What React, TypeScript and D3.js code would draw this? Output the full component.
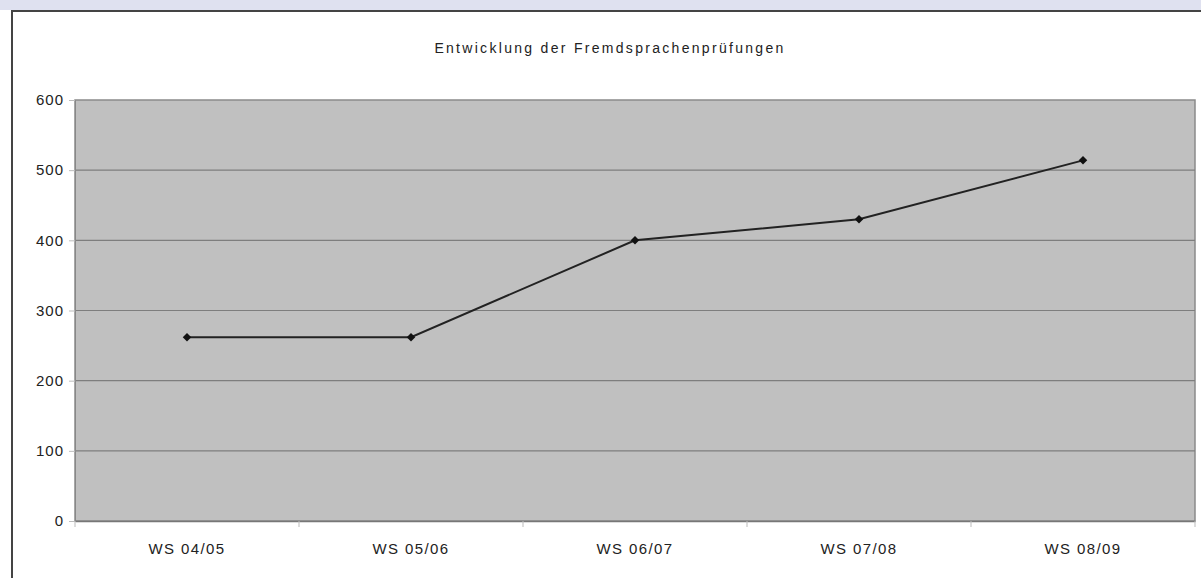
import { useEffect, useRef } from 'react'
import * as d3 from 'd3'

const categories = ['WS 04/05', 'WS 05/06', 'WS 06/07', 'WS 07/08', 'WS 08/09']
const values = [262, 262, 400, 430, 514]
const yTicks = [0, 100, 200, 300, 400, 500, 600]
const title = 'Entwicklung der Fremdsprachenprüfungen'

const svgWidth = 1201
const svgHeight = 578
const plot = { left: 75, right: 1195, top: 100, bottom: 521 }
const font = 'Arial, Liberation Sans, sans-serif'

export default function App() {
  const svgRef = useRef<SVGSVGElement>(null)

  useEffect(() => {
    const svg = d3.select(svgRef.current)
    svg.selectAll('*').remove()

    // window frame
    svg.append('rect')
      .attr('x', 0).attr('y', 0)
      .attr('width', svgWidth).attr('height', 10)
      .attr('fill', '#dfe1f0')
    svg.append('rect')
      .attr('x', 12).attr('y', 11)
      .attr('width', svgWidth).attr('height', svgHeight)
      .attr('fill', '#ffffff')
      .attr('stroke', '#444')
      .attr('stroke-width', 2)

    svg.append('text')
      .attr('x', 610).attr('y', 53)
      .attr('text-anchor', 'middle')
      .attr('font-size', 14)
      .attr('letter-spacing', 2.3)
      .attr('font-family', font)
      .attr('fill', '#222')
      .text(title)

    const x = d3.scaleBand()
      .domain(categories)
      .range([plot.left, plot.right])

    const y = d3.scaleLinear()
      .domain([0, 600])
      .range([plot.bottom, plot.top])

    svg.append('rect')
      .attr('x', plot.left).attr('y', plot.top)
      .attr('width', plot.right - plot.left)
      .attr('height', plot.bottom - plot.top)
      .attr('fill', '#c0c0c0')
      .attr('stroke', '#8a8a8a')
      .attr('stroke-width', 1.5)

    // gridlines
    svg.append('g')
      .selectAll('line')
      .data(yTicks.slice(1, -1))
      .join('line')
        .attr('x1', plot.left).attr('x2', plot.right)
        .attr('y1', d => y(d)).attr('y2', d => y(d))
        .attr('stroke', '#7e7e7e')
        .attr('stroke-width', 1.2)

    const yAxis = d3.axisLeft(y)
      .tickValues(yTicks)
      .tickSize(6)
      .tickPadding(5)
    svg.append('g')
      .attr('transform', `translate(${plot.left}, 0)`)
      .call(yAxis)
      .call(g => g.select('.domain').attr('stroke', '#888'))
      .call(g => g.selectAll('.tick line').attr('stroke', '#bbb'))
      .call(g => g.selectAll('text')
        .attr('font-size', 15)
        .attr('letter-spacing', 1)
        .attr('font-family', font)
        .attr('fill', '#222'))

    // x axis: ticks between categories
    const xAxis = d3.axisBottom(x).tickSize(0).tickPadding(22)
    svg.append('g')
      .attr('transform', `translate(0, ${plot.bottom})`)
      .call(xAxis)
      .call(g => g.select('.domain').attr('stroke', '#777').attr('stroke-width', 1.5))
      .call(g => g.selectAll('text')
        .attr('font-size', 15)
        .attr('letter-spacing', 1.4)
        .attr('font-family', font)
        .attr('fill', '#222'))

    svg.append('g')
      .selectAll('line')
      .data(d3.range(categories.length + 1))
      .join('line')
        .attr('x1', i => plot.left + i * x.step())
        .attr('x2', i => plot.left + i * x.step())
        .attr('y1', plot.bottom).attr('y2', plot.bottom + 6)
        .attr('stroke', '#bbb')

    const line = d3.line<number>()
      .x((d, i) => x(categories[i])! + x.bandwidth() / 2)
      .y(d => y(d))

    svg.append('path')
      .datum(values)
      .attr('d', line)
      .attr('fill', 'none')
      .attr('stroke', '#222')
      .attr('stroke-width', 2)

    svg.append('g')
      .selectAll('path')
      .data(values)
      .join('path')
        .attr('d', d3.symbol(d3.symbolSquare, 36))
        .attr('transform', (d, i) => `translate(${x(categories[i])! + x.bandwidth() / 2}, ${y(d)}) rotate(45)`)
        .attr('fill', '#111')
  }, [])

  return (
    <svg
      ref={svgRef}
      width={svgWidth}
      height={svgHeight}
      style={{ position: 'fixed', left: 0, top: 0, display: 'block', fontFamily: font }}
    />
  )
}
